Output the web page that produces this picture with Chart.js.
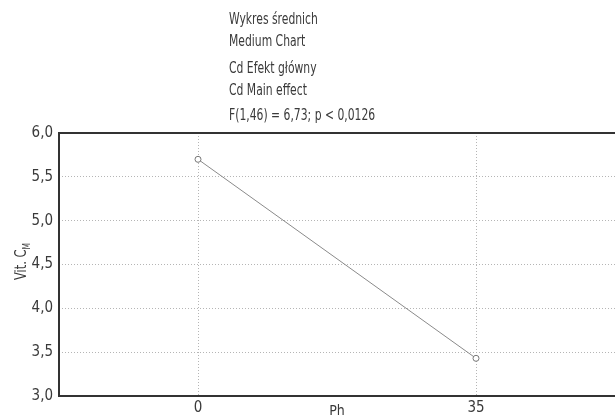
<!DOCTYPE html>
<html>
<head>
<meta charset="utf-8">
<script src="https://cdn.jsdelivr.net/npm/chart.js@4"></script>
<style>
  html, body { margin: 0; padding: 0; background: #fff; overflow: hidden; }
</style>
</head>
<body>
<canvas id="chart" width="620" height="420"></canvas>
<script>
// values
const phLevels = ['0', '35'];
const vitCMeans = [5.70, 3.43];
const titleLines = [
  'Wykres średnich',
  'Medium Chart',
  'Cd Efekt główny',
  'Cd Main effect',
  'F(1,46) = 6,73; p < 0,0126'
];

const FONT = '"DejaVu Sans Condensed", "Liberation Sans Narrow", sans-serif';
const TXT = '#3a3a3a';

// header text, frame and y axis label with subscript
const extras = {
  id: 'extras',
  afterDraw(chart) {
    const ctx = chart.ctx;
    const a = chart.chartArea;
    ctx.save();
    ctx.fillStyle = TXT;
    ctx.textAlign = 'left';
    ctx.textBaseline = 'middle';
    const ys = [20, 42, 69, 91, 116];
    titleLines.forEach((t, i) => {
      ctx.save();
      ctx.translate(229, ys[i]);
      ctx.scale(0.8, 1);
      ctx.font = '15px ' + FONT;
      ctx.fillText(t, 0, 0);
      ctx.restore();
    });

    // frame
    ctx.strokeStyle = '#333';
    ctx.lineWidth = 2;
    ctx.beginPath();
    ctx.moveTo(a.right + 2, a.top);
    ctx.lineTo(a.left, a.top);
    ctx.lineTo(a.left, a.bottom);
    ctx.lineTo(a.right + 2, a.bottom);
    ctx.stroke();

    // y title: Vit. C_M
    ctx.translate(22, (a.top + a.bottom) / 2 - 3);
    ctx.rotate(-Math.PI / 2);
    ctx.scale(0.85, 1);
    const main = 'Vit. C';
    ctx.font = '15px ' + FONT;
    const w1 = ctx.measureText(main).width;
    ctx.font = '10px ' + FONT;
    const w2 = ctx.measureText('M').width;
    const start = -(w1 + w2) / 2;
    ctx.font = '15px ' + FONT;
    ctx.fillText(main, start, 0);
    ctx.font = '10px ' + FONT;
    ctx.fillText('M', start + w1, 5);
    ctx.restore();
  }
};

new Chart(document.getElementById('chart'), {
  type: 'line',
  data: {
    labels: phLevels,
    datasets: [{
      data: vitCMeans,
      borderColor: '#8a8a8a',
      borderWidth: 1,
      pointRadius: 3,
      pointBackgroundColor: '#fff',
      pointBorderColor: '#777',
      pointBorderWidth: 1,
      tension: 0
    }]
  },
  options: {
    responsive: false,
    animation: false,
    layout: { padding: { top: 133, left: 0, right: 3, bottom: 0 } },
    plugins: {
      legend: { display: false },
      tooltip: { enabled: false }
    },
    scales: {
      x: {
        type: 'category',
        offset: true,
        border: { display: false, dash: [1, 2] },
        grid: { offset: false, color: '#b5b5b5', drawTicks: false },
        ticks: { color: TXT, font: { family: FONT, size: 15 }, padding: 3 },
        title: { display: true, text: 'Ph', color: TXT, font: { family: FONT, size: 14 }, padding: { top: 4, bottom: 0 } },
        afterFit(s) { s.height = 24; }
      },
      y: {
        min: 3,
        max: 6,
        border: { display: false, dash: [1, 2] },
        grid: { color: '#b5b5b5', drawTicks: false },
        ticks: {
          stepSize: 0.5,
          color: TXT,
          font: { family: FONT, size: 15 },
          padding: 6,
          callback: v => v.toFixed(1).replace('.', ',')
        },
        afterFit(s) { s.width = 59; }
      }
    }
  },
  plugins: [extras]
});
</script>
</body>
</html>
